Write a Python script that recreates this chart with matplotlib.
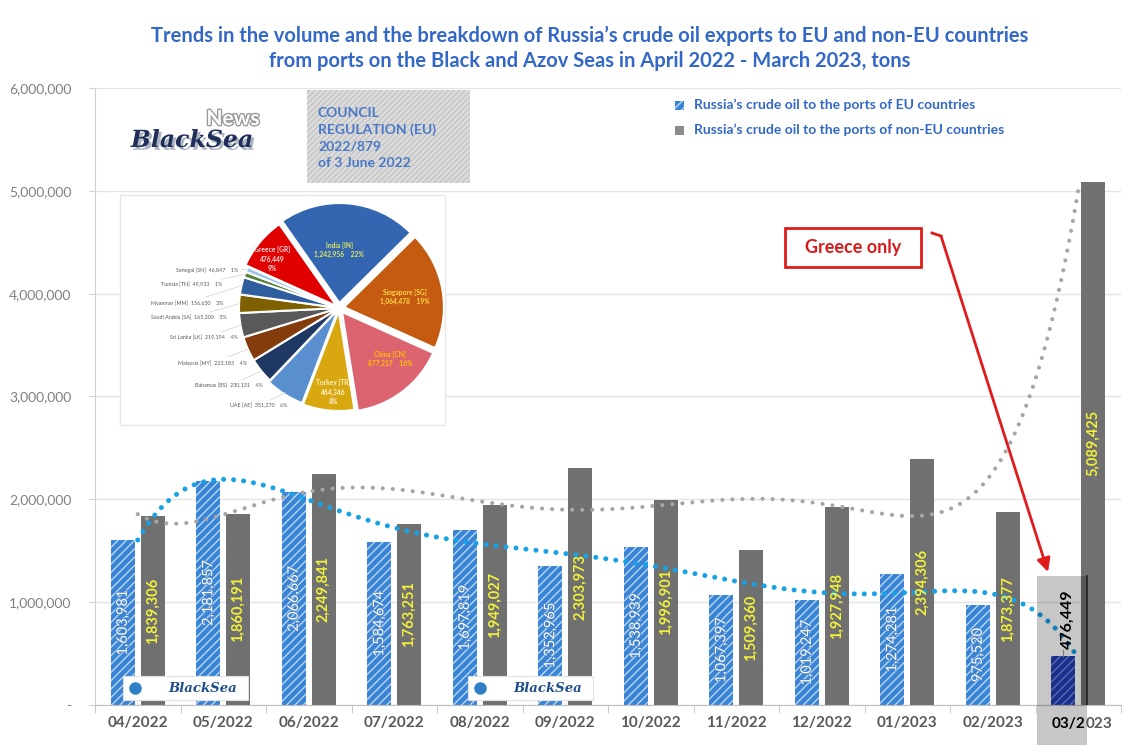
import numpy as np
import matplotlib
matplotlib.use("Agg")
import matplotlib.pyplot as plt
from matplotlib.patches import Rectangle
from matplotlib.lines import Line2D
from matplotlib.ticker import FuncFormatter, FixedLocator
import matplotlib.patheffects as pe

# data
months = ["04/2022", "05/2022", "06/2022", "07/2022", "08/2022", "09/2022",
          "10/2022", "11/2022", "12/2022", "01/2023", "02/2023", "03/2023"]
eu_tons = [1603981, 2181857, 2066667, 1584674, 1697819, 1352965,
           1538939, 1067397, 1019247, 1274281, 975520, 476449]
non_eu_tons = [1839306, 1860191, 2249841, 1763251, 1949027, 2303973,
               1996901, 1509360, 1927948, 2394306, 1873377, 5089425]

pie_names = ["India", "Singapore", "China", "Turkey", "UAE", "Bahamas", "Malaysia",
             "Sri Lanka", "Saudi Arabia", "Myanmar", "Tunisia", "Senegal", "Greece"]
pie_codes = ["IN", "SG", "CN", "TR", "AE", "BS", "MY", "LK", "SA", "MM", "TN", "SN", "GR"]
pie_tons = [1242956, 1064478, 877217, 464346, 351270, 230131, 223183,
            219194, 165200, 156630, 49933, 46847, 476449]
pie_colors = ["#3465b0", "#c55a11", "#dc6470", "#d9a710", "#5a8fcf", "#1f3864", "#843c0c",
              "#595959", "#7f6000", "#2e5e9e", "#548235", "#9dc3e6", "#e00000"]

title = ("Trends in the volume and the breakdown of Russia\u2019s crude oil exports to EU and non-EU countries\n"
         "from ports on the Black and Azov Seas in April 2022 - March 2023, tons")

plt.rcParams['font.family'] = ['Lato', 'DejaVu Sans']
W, H = 1135, 755
def fx(px):
    return px / W
def fy(py):
    return 1 - py / H

BLUE_TXT = "#3468c8"
EU_BLUE = "#3a84d6"
GRAY_BAR = "#707070"

fig = plt.figure(figsize=(11.35, 7.55), dpi=100)
fig.patch.set_facecolor("white")
ax = fig.add_axes([fx(95), fy(705), fx(1121) - fx(95), fy(88) - fy(705)])

x = np.arange(len(months))
w = 0.28
off = 0.175
for i in range(len(months)):
    last = i == len(months) - 1
    ax.bar(x[i] - off, eu_tons[i], w, color="#263cb4" if last else EU_BLUE,
           edgecolor="#6f8ee0" if last else "#b9d6f4", hatch="////", linewidth=0, zorder=2)
ax.bar(x + off, non_eu_tons, w, color=GRAY_BAR, linewidth=0, zorder=2)

# polynomial trend lines (as in the original spreadsheet chart)
xs = np.linspace(0, 11, 300)
eu_fit = np.polyval(np.polyfit(x, eu_tons, 6), xs)
non_fit = np.polyval(np.polyfit(x, non_eu_tons, 6), xs)
ax.plot(xs, non_fit, color="#a6a6a6", lw=3, linestyle=(0, (0.01, 2.4)),
        dash_capstyle="round", zorder=3)
ax.plot(xs, eu_fit, color="#17a2e6", lw=3.6, linestyle=(0, (0.01, 2.0)),
        dash_capstyle="round", zorder=3)

# value labels
for i in range(len(months) - 1):
    ax.text(x[i] - off, eu_tons[i] / 2, f"{eu_tons[i]:,}", rotation=90, ha="center",
            va="center", color="white", fontsize=10.5, zorder=5,
            path_effects=[pe.withStroke(linewidth=1.2, foreground="#4a86c8")])
for i in range(len(months)):
    ax.text(x[i] + off, non_eu_tons[i] / 2, f"{non_eu_tons[i]:,}", rotation=90, ha="center",
            va="center", color="#f2f23a", fontsize=10.5, fontweight="bold", zorder=5)
ax.text(x[-1] - off + 0.05, eu_tons[-1] + 70000, f"{eu_tons[-1]:,}", rotation=90, ha="center",
        va="bottom", color="black", fontsize=11.5, fontweight="bold", zorder=7)
ax.plot([x[-1] - off, x[-1] - off], [eu_tons[-1], eu_tons[-1] + 60000], color="#7f7f7f", lw=0.8, zorder=6)

# highlight of March 2023 (darkening overlay)
ax.add_patch(Rectangle((10.52, -390000), 0.58, 1645000, facecolor="black", alpha=0.22,
                       linewidth=0, clip_on=False, zorder=4))
ax.plot([11.1, 11.1], [0, 1255000], color="#202020", lw=1.2, zorder=4)

ax.set_xlim(-0.5, 11.5)
ax.set_ylim(0, 6000000)
ax.set_yticks(np.arange(0, 6000001, 1000000))
ax.yaxis.set_major_formatter(FuncFormatter(lambda v, p: "-" if v == 0 else f"{int(v):,}"))
ax.tick_params(axis="y", length=4, color="#d0d0d0", labelcolor="#808080", labelsize=10, pad=13)
ax.grid(axis="y", color="#e3e3e3", lw=1, zorder=0)
ax.set_axisbelow(True)
for s in ["top", "right"]:
    ax.spines[s].set_visible(False)
ax.spines["left"].set_color("#d0d0d0")
ax.spines["bottom"].set_color("#bfbfbf")

ax.set_xticks(x)
ax.set_xticklabels(months[:-1] + [""], fontsize=11, fontweight="bold", color="#595959")
ax.tick_params(axis="x", which="major", length=0, pad=8)
ax.xaxis.set_minor_locator(FixedLocator(np.arange(-0.5, 12, 1)))
ax.tick_params(axis="x", which="minor", length=6, color="#bfbfbf")
ax.text(11.09, -0.02, "03/2", transform=ax.get_xaxis_transform(), ha="right", va="top",
        fontsize=11, fontweight="bold", color="black", zorder=8)
ax.text(11.09, -0.02, "023", transform=ax.get_xaxis_transform(), ha="left", va="top",
        fontsize=11, fontweight="bold", color="#595959", zorder=8)

# title
fig.text(fx(590), fy(48), title, ha="center", va="center", fontsize=14.5, fontweight="bold",
         color=BLUE_TXT, linespacing=1.3)

# legend
fig.patches.append(Rectangle((fx(675), fy(110)), fx(9), 9 / H, transform=fig.transFigure,
                             facecolor=EU_BLUE, edgecolor="#b9d6f4", hatch="////", linewidth=0))
fig.patches.append(Rectangle((fx(675), fy(135)), fx(9), 9 / H, transform=fig.transFigure,
                             facecolor="#8c8c8c", linewidth=0))
fig.text(fx(694), fy(105), "Russia\u2019s crude oil to the ports of EU countries", va="center",
         fontsize=10, fontweight="bold", color=BLUE_TXT)
fig.text(fx(694), fy(130), "Russia\u2019s crude oil to the ports of non-EU countries", va="center",
         fontsize=10, fontweight="bold", color=BLUE_TXT)

# council regulation box
fig.patches.append(Rectangle((fx(307), fy(183)), fx(163), 93 / H, transform=fig.transFigure,
                             facecolor="#dcdcdc", edgecolor="#c4c4c4", hatch="//////", linewidth=0))
fig.text(fx(318), fy(138), "COUNCIL\nREGULATION (EU)\n2022/879\nof 3 June 2022", va="center",
         fontsize=10, fontweight="bold", color="#4a78c8", linespacing=1.45)

# BlackSea News logo
fig.text(fx(233), fy(119), "News", ha="center", va="center", fontsize=15, fontweight="bold",
         color="white", path_effects=[pe.withStroke(linewidth=2, foreground="#9a9a9a")])
fig.text(fx(192), fy(140), "BlackSea", ha="center", va="center", fontsize=17, fontweight="bold",
         style="italic", family="DejaVu Serif", color="#1f2f5a",
         path_effects=[pe.withSimplePatchShadow(offset=(2, -2), shadow_rgbFace="#9aa3b5", alpha=0.8)])

# small logos at the bottom
for lx in (123, 468):
    fig.patches.append(Rectangle((fx(lx), fy(700)), fx(125), 24 / H, transform=fig.transFigure,
                                 facecolor="white", edgecolor="#e0e0e0", linewidth=0.8, zorder=5))
    fig.add_artist(Line2D([fx(lx + 12)], [fy(688)], marker="o", markersize=8, color="#2f7fc8",
                          transform=fig.transFigure, zorder=6))
    fig.text(fx(lx + 80), fy(689), "BlackSea", ha="center", va="center", fontsize=9.5,
             fontweight="bold", style="italic", family="DejaVu Serif", color="#1f4e8c", zorder=6)

# Greece only note and arrow
fig.patches.append(Rectangle((fx(785), fy(267)), fx(136), 39 / H, transform=fig.transFigure,
                             facecolor="white", edgecolor="#e01b1b", linewidth=2))
fig.text(fx(853), fy(247), "Greece only", ha="center", va="center", fontsize=13,
         fontweight="bold", color="#d81b1b")
fig.add_artist(Line2D([fx(932), fx(941)], [fy(233), fy(236)], color="#e01b1b", lw=2,
                      transform=fig.transFigure))
ax.annotate("", xy=(fx(1048), fy(572)), xytext=(fx(941), fy(236)), xycoords="figure fraction",
            textcoords="figure fraction",
            arrowprops=dict(arrowstyle="-|>", color="#e01b1b", lw=2, mutation_scale=20,
                            shrinkA=0, shrinkB=0), zorder=9)

# pie inset
fig.patches.append(Rectangle((fx(120), fy(425)), fx(325), 230 / H, transform=fig.transFigure,
                             facecolor="white", edgecolor="#e6e6e6", linewidth=1, zorder=1))
pax = fig.add_axes([fx(229), fy(418), fx(220), 220 / H], zorder=3)
pax.patch.set_alpha(0)
explode = [0.05, 0.05, 0.05, 0.03, 0.02, 0, 0, 0, 0, 0, 0, 0, 0.03]
wedges, _ = pax.pie(pie_tons, colors=pie_colors, startangle=125, counterclock=False,
                    explode=explode, wedgeprops=dict(edgecolor="white", linewidth=1.5))
pax.set_xlim(-1.1, 1.1)
pax.set_ylim(-1.1, 1.1)
pax.axis("off")
total = sum(pie_tons)
big_txt = {"India": "#dfe85a", "Singapore": "#ffd84a", "China": "#ffc000",
           "Turkey": "#fff2cc", "Greece": "#ffe0e0"}
label_pos = {"India": (0.0, 0.58), "Singapore": (0.66, 0.11), "China": (0.51, -0.51),
             "Turkey": (-0.06, -0.84), "Greece": (-0.67, 0.49),
             "Senegal": (-1.01, 0.38), "Tunisia": (-1.17, 0.23), "Myanmar": (-1.16, 0.05),
             "Saudi Arabia": (-1.12, -0.10), "Sri Lanka": (-1.01, -0.30), "Malaysia": (-0.92, -0.55),
             "Bahamas": (-0.76, -0.78), "UAE": (-0.52, -0.98)}
for wd, name, code, val in zip(wedges, pie_names, pie_codes, pie_tons):
    pct = round(val / total * 100)
    ang = np.deg2rad((wd.theta1 + wd.theta2) / 2)
    tx, ty = label_pos[name]
    if name in big_txt:
        if name in ("India", "Singapore", "China"):
            s = f"{name} [{code}]\n{val:,}    {pct}%"
        else:
            s = f"{name} [{code}]\n{val:,}\n{pct}%"
        pax.text(tx, ty, s, ha="center", va="center", fontsize=4.8,
                 fontweight="bold", color=big_txt[name], linespacing=1.35)
    else:
        pax.annotate(f"{name} [{code}]  {val:,}    {pct}%", xy=(np.cos(ang), np.sin(ang)),
                     xytext=(tx, ty), ha="right", va="center", fontsize=3.9, color="#595959",
                     arrowprops=dict(arrowstyle="-", color="#d0d0d0", lw=0.5, shrinkA=1, shrinkB=0))

fig.savefig("out.png", dpi=100, facecolor="white")
